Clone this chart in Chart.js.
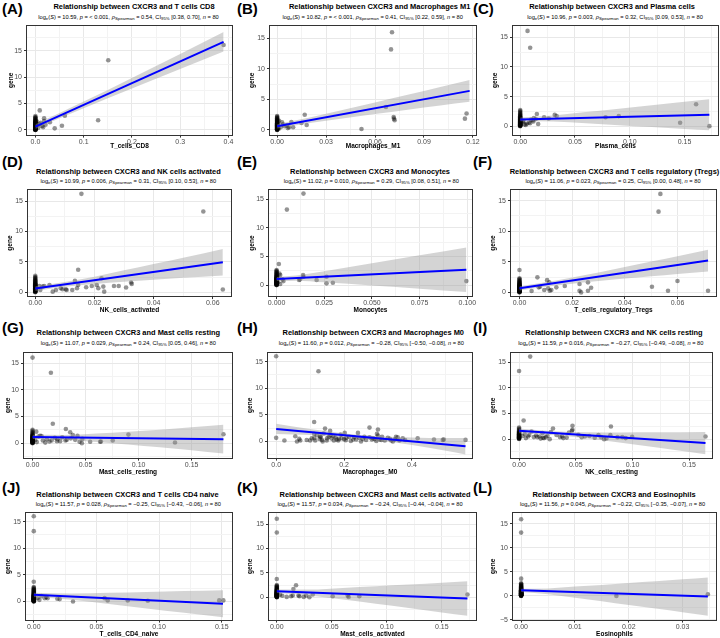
<!DOCTYPE html>
<html><head><meta charset="utf-8">
<script src="https://cdn.jsdelivr.net/npm/chart.js@4.4.0/dist/chart.umd.min.js"></script>
<style>
html,body{margin:0;padding:0;background:#fff;}
#fig{position:relative;width:720px;height:638px;overflow:hidden;font-family:"Liberation Sans",Arial,sans-serif;background:#fff;}
.lab{position:absolute;font-weight:bold;font-size:15px;line-height:15px;color:#000;white-space:nowrap;}
.ttl{position:absolute;width:300px;text-align:center;font-weight:bold;font-size:7.45px;line-height:10px;white-space:nowrap;color:#000;}
.sub{position:absolute;width:300px;text-align:center;font-size:5.7px;line-height:8px;white-space:nowrap;color:#000;}
.sub sub{font-size:75%;vertical-align:-0.3em;line-height:0;}
canvas{position:absolute;}
</style></head><body><div id="fig"></div>
<script>
// ---------------- DATA ----------------
const cellTitles = ['T cells CD8','Macrophages M1','Plasma cells','NK cells activated','Monocytes','T cells regulatory (Tregs)','Mast cells resting','Macrophages M0','NK cells resting','T cells CD4 naive','Mast cells activated','Eosinophils'];
const xLabels = ['T_cells_CD8','Macrophages_M1','Plasma_cells','NK_cells_activated','Monocytes','T_cells_regulatory_Tregs','Mast_cells_resting','Macrophages_M0','NK_cells_resting','T_cells_CD4_naive','Mast_cells_activated','Eosinophils'];
const panelLetters = ['(A)','(B)','(C)','(D)','(E)','(F)','(G)','(H)','(I)','(J)','(K)','(L)'];
const statLogS = ['10.59','10.82','10.96','10.99','11.02','11.06','11.07','11.60','11.59','11.57','11.57','11.56'];
const statP = ['&lt; 0.001','&lt; 0.001','0.003','0.006','0.010','0.023','0.029','0.012','0.016','0.028','0.034','0.045'];
const statRho = ['0.54','0.41','0.32','0.31','0.29','0.25','0.24','\u22120.28','\u22120.27','\u22120.25','\u22120.24','\u22120.22'];
const statCILo = ['0.38','0.22','0.09','0.10','0.08','0.00','0.05','\u22120.50','\u22120.49','\u22120.43','\u22120.44','\u22120.35'];
const statCIHi = ['0.70','0.59','0.53','0.53','0.51','0.48','0.46','\u22120.08','\u22120.08','\u22120.06','\u22120.04','\u22120.07'];
const statN = 80;

const yTicks = [0,5,10,15];
const yTickLabels = ['0','5','10','15'];
const yTicksL = [-5,0,5,10,15];
const yTickLabelsL = ['\u22125','0','5','10','15'];

// A
const A_pointX = [0.390,0.151,0.130,0.061,0.055,0.040,0.030,0.018,0.018,0.014,0.009,0.009,0.011,0.016,0.004,0.006,0.003,0.021];
const A_pointY = [16.1,13.2,1.83,2.7,0.8,0.3,1.45,2.2,1.7,0.75,3.7,1.1,1.35,0.5,0.9,0.4,1.6,1.0];
const A_zeroY = [2.62,2.41,2.33,2.18,2.05,1.97,1.86,1.79,1.71,1.64,1.58,1.52,1.47,1.41,1.38,1.33,1.29,1.24,1.21,1.17,1.13,1.09,1.06,1.02,0.98,0.95,0.93,0.89,0.86,0.83,0.8,0.77,0.74,0.71,0.69,0.66,0.63,0.61,0.58,0.55,0.52,0.5,0.47,0.44,0.41,0.39,0.36,0.33,0.31,0.28,0.25,0.22,0.2,0.17,0.14,0.12,0.09,0.07,0.05,0.03,0.01,0.0];
const A_lineX = [0,0.390]; const A_lineY = [0.63,16.7];
const A_bandX = [0,0.05,0.1,0.2,0.3,0.39];
const A_bandHi = [1.08,3.19,5.37,9.87,14.42,18.55];
const A_bandLo = [0.18,2.19,4.13,7.87,11.56,14.85];
const A_xTicks = [0,0.1,0.2,0.3,0.4]; const A_xTickLabels = ['0.0','0.1','0.2','0.3','0.4'];
// B
const B_pointX = [0.0704,0.0698,0.0667,0.0714,0.0720,0.0716,0.1161,0.1151,0.0517,0.0169,0.0181,0.0149,0.0098,0.0087,0.0073,0.0057,0.0030,0.0022,0.0045,0.0012,0.0035,0.0065,0.0010];
const B_pointY = [16.0,13.2,3.75,2.1,1.6,1.85,2.7,1.85,0.16,2.5,0.8,1.14,0.43,1.3,0.43,0.76,1.25,0.43,0.6,1.5,0.9,0.3,0.2];
const B_zeroY = [2.28,2.15,2.02,1.93,1.84,1.72,1.66,1.59,1.51,1.45,1.4,1.34,1.28,1.23,1.19,1.14,1.1,1.05,1.01,0.97,0.94,0.9,0.87,0.83,0.8,0.76,0.73,0.7,0.67,0.64,0.61,0.58,0.55,0.52,0.49,0.46,0.43,0.4,0.37,0.34,0.31,0.28,0.25,0.22,0.19,0.16,0.13,0.1,0.07,0.04,0.02,0.0,0.33,0.71,1.02,0.5,0.15];
const B_lineX = [0,0.118]; const B_lineY = [0.6,6.4];
const B_bandX = [0,0.02,0.04,0.06,0.08,0.1,0.118];
const B_bandHi = [0.95,2.03,3.25,4.5,5.76,7.04,8.2];
const B_bandLo = [0.25,1.13,1.89,2.6,3.3,4.0,4.6];
const B_xTicks = [0,0.03,0.06,0.09,0.12]; const B_xTickLabels = ['0.00','0.03','0.06','0.09','0.12'];
// C
const C_pointX = [0.0067,0.0091,0.1606,0.1727,0.1460,0.0900,0.0779,0.0315,0.0333,0.0152,0.0164,0.0218,0.0142,0.0100,0.0115,0.0125,0.0080,0.0060,0.0040,0.0090,0.0030,0.0050,0.0024,0.0260,0.0120];
const C_pointY = [16.1,13.26,3.7,0.0,0.57,1.7,1.5,1.9,1.7,2.06,0.35,1.5,1.2,1.1,1.0,1.35,0.6,0.4,0.3,0.5,0.9,0.2,0.7,1.3,0.8];
const C_zeroY = [2.72,2.55,2.4,2.22,2.1,1.98,1.87,1.76,1.68,1.6,1.52,1.45,1.39,1.33,1.27,1.22,1.16,1.11,1.06,1.02,0.97,0.93,0.89,0.85,0.81,0.77,0.73,0.69,0.66,0.62,0.58,0.55,0.51,0.48,0.44,0.41,0.37,0.34,0.3,0.27,0.23,0.2,0.16,0.13,0.09,0.06,0.03,0.0,0.45,0.75,1.04,0.25,0.6,0.12,0.95];
const C_lineX = [0,0.1727]; const C_lineY = [1.14,1.94];
const C_bandX = [0,0.03,0.06,0.09,0.12,0.15,0.1727];
const C_bandHi = [1.44,1.78,2.37,2.96,3.55,4.13,4.56];
const C_bandLo = [0.84,0.78,0.47,0.16,-0.15,-0.47,-0.68];
const C_xTicks = [0,0.05,0.1,0.15]; const C_xTickLabels = ['0.00','0.05','0.10','0.15'];
// D
const D_pointX = [0.0156,0.0568,0.0634,0.0145,0.0134,0.0224,0.0213,0.0208,0.0233,0.0230,0.0266,0.0282,0.0307,0.0324,0.0326,0.0191,0.0172,0.0141,0.0145,0.0125,0.0103,0.0106,0.0086,0.0092,0.0070,0.0059,0.0048,0.0025,0.0017,0.0014,0.0030];
const D_pointY = [16.2,13.3,0.44,3.7,1.87,2.3,0.66,1.2,0.1,0.93,1.04,1.04,0.77,1.6,1.37,1.04,0.82,0.66,1.2,0.38,0.5,0.38,0.66,0.5,0.38,0.1,1.2,0.93,0.38,1.04,1.04];
const D_zeroY = [2.7,2.52,2.36,2.24,2.11,1.99,1.88,1.79,1.7,1.62,1.54,1.47,1.4,1.34,1.28,1.22,1.16,1.1,1.05,1.0,0.95,0.9,0.85,0.8,0.75,0.71,0.66,0.62,0.57,0.53,0.48,0.44,0.39,0.35,0.3,0.26,0.21,0.17,0.12,0.08,0.04,0.01,0.6,0.9,1.3,0.45,0.2,0.7,1.12];
const D_lineX = [0,0.0634]; const D_lineY = [0.6,4.95];
const D_bandX = [0,0.01,0.02,0.03,0.04,0.05,0.0634];
const D_bandHi = [1.0,1.69,2.57,3.61,4.64,5.69,7.13];
const D_bandLo = [0.2,0.89,1.37,1.71,2.04,2.37,2.77];
const D_xTicks = [0,0.02,0.04,0.06]; const D_xTickLabels = ['0.00','0.02','0.04','0.06'];
// E
const E_pointX = [0.0141,0.0054,0.0995,0.0012,0.0019,0.0015,0.0139,0.0141,0.0123,0.0118,0.0210,0.0262,0.0262,0.0295,0.0036,0.0031,0.0019,0.0010,0.0008];
const E_pointY = [16.0,13.2,0.7,3.7,1.75,2.0,1.75,1.46,1.0,0.88,0.88,1.46,0.3,0.4,0.7,1.0,0.18,1.2,0.5];
const E_zeroY = [2.64,2.5,2.38,2.26,2.13,2.03,1.92,1.83,1.74,1.66,1.58,1.51,1.45,1.39,1.33,1.28,1.23,1.18,1.13,1.08,1.04,0.99,0.95,0.91,0.87,0.83,0.79,0.75,0.72,0.68,0.64,0.61,0.57,0.54,0.5,0.47,0.43,0.4,0.37,0.33,0.3,0.27,0.23,0.2,0.17,0.14,0.11,0.08,0.05,0.02,0.0,0.62,0.85,1.1,0.35,0.55,0.92,0.25,0.7,1.2,0.45];
const E_lineX = [0,0.0995]; const E_lineY = [1.05,2.69];
const E_bandX = [0,0.01,0.025,0.05,0.075,0.0995];
const E_bandHi = [1.4,1.67,2.44,3.83,5.22,6.59];
const E_bandLo = [0.7,0.77,0.48,-0.07,-0.64,-1.21];
const E_xTicks = [0,0.025,0.05,0.075,0.1]; const E_xTickLabels = ['0.000','0.025','0.050','0.075','0.100'];
// F
const F_pointX = [0.0535,0.0528,0.0716,0.0600,0.0564,0.0503,0.0272,0.0260,0.0260,0.0228,0.0234,0.0228,0.0172,0.0140,0.0121,0.0109,0.0115,0.0105,0.0113,0.0094,0.0068,0.0078,0.0073,0.0046];
const F_pointY = [16.1,13.2,0.27,1.86,0.27,0.93,0.77,0.27,1.64,0.27,0.0,1.37,1.04,0.82,0.38,0.66,0.27,2.0,1.64,0.38,2.46,0.93,0.82,0.22];
const F_zeroY = [3.66,2.3,2.17,2.04,1.93,1.83,1.74,1.65,1.57,1.5,1.43,1.37,1.31,1.25,1.2,1.15,1.1,1.05,1.0,0.96,0.92,0.88,0.84,0.8,0.76,0.72,0.68,0.65,0.61,0.58,0.54,0.51,0.47,0.44,0.41,0.37,0.34,0.31,0.28,0.25,0.22,0.19,0.16,0.13,0.1,0.07,0.04,0.01,0.6,0.9,0.35,1.2,0.5,0.75,0.2,1.02];
const F_lineX = [0,0.0716]; const F_lineY = [0.66,5.2];
const F_bandX = [0,0.01,0.02,0.03,0.04,0.05,0.06,0.0716];
const F_bandHi = [1.01,1.67,2.43,3.26,4.15,5.03,5.91,6.98];
const F_bandLo = [0.31,0.91,1.43,1.86,2.25,2.63,3.01,3.42];
const F_xTicks = [0,0.02,0.04,0.06]; const F_xTickLabels = ['0.00','0.02','0.04','0.06'];
// G
const G_pointX = [0.0173,0.0191,0.0314,0.0355,0.0380,0.0424,0.0904,0.1343,0.1800,0.0756,0.0637,0.0645,0.0543,0.0465,0.0443,0.0402,0.0323,0.0310,0.0260,0.0230,0.0235,0.0180,0.0160,0.0135,0.0097,0.0072,0.0056,0.0035,0.0040,0.0120,0.0280,0.0210,0.0360,0.0470,0.0085,0.0025];
const G_pointY = [13.2,3.64,2.65,2.04,1.54,1.36,1.6,0.12,1.67,0.49,0.25,0.3,0.25,0.0,0.25,0.62,0.62,0.5,0.37,0.37,0.74,0.5,0.3,0.74,0.49,1.36,1.23,2.16,0.2,0.1,1.1,1.0,0.9,0.8,1.35,0.6];
const G_zeroY = [16.05,2.5,2.3,2.1,1.92,1.78,1.65,1.53,1.43,1.34,1.26,1.18,1.1,1.03,0.96,0.89,0.82,0.76,0.7,0.64,0.58,0.52,0.47,0.42,0.37,0.32,0.27,0.22,0.18,0.14,0.1,0.06,0.03,0.0,0.55,0.85,1.15,0.35,0.66,0.95,0.2,1.4,0.78,0.45];
const G_lineX = [0,0.18]; const G_lineY = [1.17,0.74];
const G_bandX = [0,0.03,0.06,0.09,0.12,0.15,0.18];
const G_bandHi = [1.57,1.55,1.83,2.16,2.53,2.96,3.44];
const G_bandLo = [0.77,0.65,0.23,-0.24,-0.77,-1.34,-1.96];
const G_xTicks = [0,0.05,0.1,0.15]; const G_xTickLabels = ['0.00','0.05','0.10','0.15'];
// H
const H_pointX = [0.1246,0.112,0.0243,0.0564,0.0613,0.071,0.100,0.112,0.112,0.131,0.144,0.159,0.137,0.149,0.168,0.163,0.178,0.183,0.202,0.193,0.207,0.215,0.227,0.236,0.241,0.275,0.300,0.297,0.300,0.285,0.275,0.305,0.310,0.329,0.344,0.339,0.353,0.358,0.373,0.363,0.417,0.465,0.491,0.494,0.558,0.105,0.120,0.128,0.140,0.155,0.170,0.185,0.190,0.220,0.245,0.255,0.265,0.290,0.320,0.335,0.380,0.068,0.090,0.130,0.160,0.175,0.205,0.250,0.282,0.312,0.295,0.115,0.135,0.150,0.200,0.230,0.260,0.350];
const H_pointY = [13.2,3.68,0.19,1.0,0.0,0.19,0.19,0.62,1.43,0.81,2.43,2.0,0.0,0.19,1.0,0.56,0.37,0.19,1.62,0.62,0.69,0.87,0.37,0.37,1.62,2.62,2.25,1.43,1.12,0.62,0.81,0.37,0.3,0.69,0.0,0.19,0.87,0.81,0.62,0.19,0.62,0.37,0.31,0.37,0.31,0.6,1.2,0.5,1.5,0.9,0.2,0.5,1.3,0.1,0.7,0.5,0.3,0.5,0.2,0.5,0.3,0.5,0.3,1.0,1.2,0.8,0.25,0.0,0.4,0.9,0.1,0.2,0.3,0.6,0.45,0.8,0.9,0.4];
const H_zeroY = [16.0,0.69];
const H_lineX = [0,0.558]; const H_lineY = [2.37,-0.87];
const H_bandX = [0,0.1,0.2,0.3,0.4,0.5,0.558];
const H_bandHi = [3.32,2.34,1.53,1.01,0.77,0.66,0.68];
const H_bandLo = [1.42,1.24,0.89,0.25,-0.67,-1.74,-2.42];
const H_xTicks = [0,0.2,0.4]; const H_xTickLabels = ['0.0','0.2','0.4'];
// I
const I_pointX = [0.0098,0.0040,0.0471,0.0810,0.0299,0.1644,0.0207,0.0466,0.0471,0.0523,0.0552,0.0580,0.0667,0.0724,0.0750,0.0770,0.0805,0.0868,0.0997,0.0910,0.0940,0.0380,0.0390,0.0360,0.0330,0.0270,0.0236,0.0250,0.0180,0.0190,0.0160,0.0130,0.0150,0.0090,0.0080,0.0060,0.0050,0.0030,0.0420,0.0620,0.0700,0.0440,0.0280,0.0110,0.0210,0.0220];
const I_pointY = [16.1,3.64,2.6,2.47,2.08,0.52,1.17,1.62,1.82,0.84,0.39,0.5,0.26,0.39,0.0,0.13,0.78,0.39,0.45,0.4,0.2,0.52,0.2,0.4,0.8,0.0,0.39,0.65,0.5,0.1,0.4,0.4,0.7,0.8,0.5,0.2,1.0,0.6,0.3,0.6,0.8,1.3,1.4,1.5,0.25,0.2];
const I_zeroY = [13.3,2.27,2.05,1.86,1.7,1.56,1.44,1.33,1.23,1.14,1.05,0.97,0.89,0.82,0.75,0.68,0.61,0.55,0.49,0.43,0.37,0.31,0.26,0.21,0.16,0.11,0.06,0.02,0.5,0.9,1.2,0.3,0.7,1.0];
const I_lineX = [0,0.1644]; const I_lineY = [1.62,-0.78];
const I_bandX = [0,0.03,0.06,0.09,0.12,0.1644];
const I_bandHi = [2.07,1.56,1.34,1.31,1.32,1.37];
const I_bandLo = [1.17,0.8,0.14,-0.69,-1.58,-2.93];
const I_xTicks = [0,0.05,0.1,0.15]; const I_xTickLabels = ['0.00','0.05','0.10','0.15'];
// J
const J_pointX = [0.0087,0.0100,0.0110,0.0188,0.0207,0.0313,0.0565,0.0590,0.0750,0.0910,0.1480,0.1513,0.0030,0.0045,0.0060];
const J_pointY = [0.62,0.81,0.6,0.5,0.44,0.0,0.62,0.19,0.19,0.12,0.19,0.19,0.6,0.3,1.0];
const J_zeroY = [16.0,13.2,3.7,2.7,2.55,2.42,2.3,2.19,2.08,1.98,1.89,1.8,1.72,1.64,1.57,1.5,1.44,1.38,1.32,1.27,1.22,1.17,1.12,1.07,1.03,0.99,0.95,0.91,0.87,0.83,0.79,0.75,0.72,0.68,0.64,0.61,0.57,0.54,0.51,0.47,0.44,0.41,0.38,0.35,0.32,0.29,0.26,0.23,0.2,0.17,0.14,0.11,0.08,0.05,0.02,0.0,0.9,0.6,1.25,0.4,0.75,1.05,0.3,0.55,0.15];
const J_lineX = [0,0.151]; const J_lineY = [1.25,-0.44];
const J_bandX = [0,0.03,0.06,0.09,0.12,0.151];
const J_bandHi = [1.65,1.51,1.63,1.79,1.96,2.11];
const J_bandLo = [0.85,0.31,-0.47,-1.31,-2.14,-2.99];
const J_xTicks = [0,0.05,0.1,0.15]; const J_xTickLabels = ['0.00','0.05','0.10','0.15'];
// K
const K_pointX = [0.0175,0.0151,0.0130,0.0145,0.0090,0.0197,0.0206,0.0245,0.0266,0.0296,0.0327,0.0508,0.0644,0.0653,0.0750,0.1733,0.0030,0.0050];
const K_pointY = [2.45,1.7,0.2,0.34,0.07,0.34,0.2,0.07,0.34,0.0,0.55,0.2,0.34,0.07,0.2,0.55,0.5,0.3];
const K_zeroY = [16.1,13.3,3.75,2.5,2.36,2.23,2.11,2.0,1.9,1.81,1.72,1.64,1.56,1.49,1.42,1.36,1.3,1.24,1.18,1.13,1.08,1.03,0.98,0.94,0.9,0.86,0.82,0.78,0.74,0.7,0.66,0.63,0.59,0.56,0.52,0.49,0.45,0.42,0.39,0.36,0.33,0.3,0.27,0.24,0.21,0.18,0.15,0.12,0.09,0.06,0.03,0.0,0.8,0.5,1.1,0.35,0.65,0.95,0.25,1.35,0.6,0.15];
const K_lineX = [0,0.1733]; const K_lineY = [1.23,-0.27];
const K_bandX = [0,0.03,0.06,0.09,0.12,0.15,0.1733];
const K_bandHi = [1.61,1.57,1.91,2.25,2.59,2.98,3.28];
const K_bandLo = [0.85,0.37,-0.49,-1.35,-2.21,-3.12,-3.82];
const K_xTicks = [0,0.05,0.1,0.15]; const K_xTickLabels = ['0.00','0.05','0.10','0.15'];
// L
const L_pointX = [0.0177,0.0347];
const L_pointY = [0.0,0.34];
const L_zeroY = [16.0,13.2,3.6,2.62,2.5,2.39,2.28,2.18,2.08,1.99,1.9,1.82,1.74,1.67,1.6,1.53,1.47,1.41,1.35,1.3,1.25,1.2,1.15,1.1,1.06,1.02,0.98,0.94,0.9,0.86,0.82,0.78,0.75,0.71,0.68,0.64,0.61,0.58,0.55,0.51,0.48,0.45,0.42,0.39,0.36,0.33,0.3,0.27,0.24,0.21,0.18,0.15,0.12,0.09,0.06,0.03,0.0,0.8,0.5,1.12,0.35,0.66,0.95,0.25,1.3,0.6,0.15,0.9,0.45,1.05,0.72,0.2,0.55,1.18,0.4,0.85,0.1];
const L_lineX = [0,0.0347]; const L_lineY = [1.16,-0.14];
const L_bandX = [0,0.005,0.01,0.015,0.02,0.025,0.03,0.0347];
const L_bandHi = [1.51,1.57,1.94,2.3,2.71,3.07,3.49,3.86];
const L_bandLo = [0.81,0.37,-0.36,-1.1,-1.89,-2.63,-3.41,-4.14];
const L_xTicks = [0,0.01,0.02,0.03]; const L_xTickLabels = ['0.00','0.01','0.02','0.03'];

// axis limits
const xRanges = [[-0.0195,0.4095],[-0.005,0.1225],[-0.0075,0.1815],[-0.0028,0.0665],[-0.0045,0.103],[-0.0036,0.075],[-0.009,0.189],[-0.027,0.58],[-0.008,0.171],[-0.007,0.159],[-0.008,0.182],[-0.0017,0.0364]];
const yRanges = [[-1.08,19.9],[-0.93,17.2],[-1.6,17.1],[-0.8,17.0],[-2.1,16.8],[-0.77,16.9],[-2.9,17.1],[-3.2,16.8],[-3.8,17.0],[-3.6,16.8],[-4.8,17.5],[-5.15,17.5]];

// ---------------- LAYOUT ----------------
const rows = [
  {letterY:8, titleY:7, subY:17, top:25, bottom:136, xTitleY:146.5},
  {letterY:161, titleY:172, subY:181, top:189, bottom:297, xTitleY:310},
  {letterY:327.5, titleY:333, subY:343, top:352, bottom:459, xTitleY:472.5},
  {letterY:487.5, titleY:495, subY:504, top:512, bottom:621, xTitleY:634.5}
];
const colLeft = [0,240,480];
const letterX = [2,237,473];
const plotLR = [[26,233],[269,477],[512,719],[27,232],[268,473],[510,717],[23,233],[267,473],[510,713],[25,233],[268,477],[512,717]];
const geneX = [11,12,15,10,12.5,13.3,8.3,10,13,8,10,13];
const titleCX = [134,379.7,612,128.3,370,614.5,128.3,373.3,614,127.5,375,614];
const subCX = [128.5,372.7,615,128.3,371.3,613,128.3,371.3,610.8,128.3,370,612.5];

const P = {
  A:[A_pointX,A_pointY,A_zeroY,A_lineX,A_lineY,A_bandX,A_bandHi,A_bandLo,A_xTicks,A_xTickLabels],
  B:[B_pointX,B_pointY,B_zeroY,B_lineX,B_lineY,B_bandX,B_bandHi,B_bandLo,B_xTicks,B_xTickLabels],
  C:[C_pointX,C_pointY,C_zeroY,C_lineX,C_lineY,C_bandX,C_bandHi,C_bandLo,C_xTicks,C_xTickLabels],
  D:[D_pointX,D_pointY,D_zeroY,D_lineX,D_lineY,D_bandX,D_bandHi,D_bandLo,D_xTicks,D_xTickLabels],
  E:[E_pointX,E_pointY,E_zeroY,E_lineX,E_lineY,E_bandX,E_bandHi,E_bandLo,E_xTicks,E_xTickLabels],
  F:[F_pointX,F_pointY,F_zeroY,F_lineX,F_lineY,F_bandX,F_bandHi,F_bandLo,F_xTicks,F_xTickLabels],
  G:[G_pointX,G_pointY,G_zeroY,G_lineX,G_lineY,G_bandX,G_bandHi,G_bandLo,G_xTicks,G_xTickLabels],
  H:[H_pointX,H_pointY,H_zeroY,H_lineX,H_lineY,H_bandX,H_bandHi,H_bandLo,H_xTicks,H_xTickLabels],
  I:[I_pointX,I_pointY,I_zeroY,I_lineX,I_lineY,I_bandX,I_bandHi,I_bandLo,I_xTicks,I_xTickLabels],
  J:[J_pointX,J_pointY,J_zeroY,J_lineX,J_lineY,J_bandX,J_bandHi,J_bandLo,J_xTicks,J_xTickLabels],
  K:[K_pointX,K_pointY,K_zeroY,K_lineX,K_lineY,K_bandX,K_bandHi,K_bandLo,K_xTicks,K_xTickLabels],
  L:[L_pointX,L_pointY,L_zeroY,L_lineX,L_lineY,L_bandX,L_bandHi,L_bandLo,L_xTicks,L_xTickLabels]
};
const keys = ['A','B','C','D','E','F','G','H','I','J','K','L'];

const FONT = '"Liberation Sans", Arial, sans-serif';
Chart.defaults.font.family = FONT;

function tickList(major, labels, range) {
  const step = major[1] - major[0];
  const out = major.map((v, i) => ({value: v, mn: false, lab: labels[i]}));
  const cand = [major[0] - step / 2].concat(major.map(v => v + step / 2));
  cand.forEach(m => { if (m > range[0] && m < range[1]) out.push({value: m, mn: true, lab: ''}); });
  out.sort((a, b) => a.value - b.value);
  return out;
}

const boxPlugin = {
  id: 'panelBox',
  afterDraw(chart) {
    const {ctx, chartArea: a} = chart;
    ctx.save();
    ctx.strokeStyle = '#333333';
    ctx.lineWidth = 1;
    ctx.strokeRect(Math.round(a.left) + 0.5, Math.round(a.top) + 0.5, Math.round(a.right - a.left) - 1, Math.round(a.bottom - a.top) - 1);
    ctx.restore();
  }
};

const fig = document.getElementById('fig');

function addDiv(cls, html, left, top) {
  const d = document.createElement('div');
  d.className = cls; d.innerHTML = html;
  d.style.left = left + 'px'; d.style.top = top + 'px';
  fig.appendChild(d);
}

keys.forEach((k, i) => {
  const [px, py, zy, lx, ly, bx, bh, bl, xt, xtl] = P[k];
  const row = rows[Math.floor(i / 3)];
  const cl = colLeft[i % 3];
  const [pl, pr] = plotLR[i];
  const padT = 3, padR = 3;
  const lh = 6.5 * 1.2;
  const xAxisH = (row.xTitleY - row.bottom) + lh / 2;
  const W = pr + padR - cl;
  const H = padT + (row.bottom - row.top) + xAxisH;
  const cv = document.createElement('canvas');
  cv.width = Math.round(W); cv.height = Math.round(H);
  cv.style.width = Math.round(W) + 'px'; cv.style.height = Math.round(H) + 'px';
  cv.style.left = cl + 'px'; cv.style.top = (row.top - padT) + 'px';
  fig.appendChild(cv);

  const pts = [];
  const n = Math.min(px.length, py.length);
  for (let j = 0; j < n; j++) pts.push({x: px[j], y: py[j]});
  zy.forEach(v => pts.push({x: 0, y: v}));
  const hi = bx.map((x, j) => ({x, y: bh[j]}));
  const lo = bx.map((x, j) => ({x, y: bl[j]}));
  const line = lx.map((x, j) => ({x, y: ly[j]}));

  const xr = xRanges[i], yr = yRanges[i];
  const xTickObjs = tickList(xt, xtl, xr);
  const yTickObjs = (k === 'L') ? tickList(yTicksL, yTickLabelsL, yr) : tickList(yTicks, yTickLabels, yr);
  const yAxisW = pl - cl;

  const gridColor = c => (c.tick && c.tick.mn) ? '#f3f3f3' : '#e8e8e8';
  const tickColor = c => (c.tick && c.tick.mn) ? 'rgba(0,0,0,0)' : '#333333';

  new Chart(cv, {
    type: 'scatter',
    data: {datasets: [
      {type: 'line', data: hi, borderWidth: 0, borderColor: 'rgba(0,0,0,0)', pointRadius: 0, fill: false, order: 2, cubicInterpolationMode: 'monotone'},
      {type: 'line', data: lo, borderWidth: 0, borderColor: 'rgba(0,0,0,0)', pointRadius: 0, fill: '-1', backgroundColor: 'rgba(153,153,153,0.42)', order: 2, cubicInterpolationMode: 'monotone'},
      {type: 'line', data: line, borderColor: '#0000ff', borderWidth: 2, pointRadius: 0, fill: false, order: 1},
      {type: 'scatter', data: pts, pointRadius: 2.3, pointHoverRadius: 2.3, backgroundColor: 'rgba(0,0,0,0.42)', borderWidth: 0, order: 3}
    ]},
    options: {
      animation: false, responsive: false, devicePixelRatio: 1, events: [],
      layout: {padding: {top: padT, right: padR, left: 0, bottom: 0}},
      plugins: {legend: {display: false}, tooltip: {enabled: false}, title: {display: false}},
      scales: {
        x: {
          type: 'linear', min: xr[0], max: xr[1],
          afterBuildTicks: ax => { ax.ticks = xTickObjs.map(t => Object.assign({}, t)); },
          afterFit: s => { s.height = xAxisH; s.paddingLeft = 0; s.paddingRight = 0; },
          ticks: {autoSkip: false, maxRotation: 0, minRotation: 0, font: {size: 7}, color: '#4d4d4d', padding: 0,
                  callback: (v, idx, t) => (t[idx] && t[idx].lab) || ''},
          grid: {color: gridColor, lineWidth: 1, tickLength: 2, tickColor: tickColor, drawTicks: true},
          border: {display: false},
          title: {display: true, text: xLabels[i], font: {size: 6.5, weight: 'bold'}, color: '#000', padding: {top: 0, bottom: 0}}
        },
        y: {
          type: 'linear', min: yr[0], max: yr[1],
          afterBuildTicks: ax => { ax.ticks = yTickObjs.map(t => Object.assign({}, t)); },
          afterFit: s => { s.width = yAxisW; s.paddingTop = 0; s.paddingBottom = 0; },
          ticks: {autoSkip: false, font: {size: 7}, color: '#4d4d4d', padding: 2,
                  callback: (v, idx, t) => (t[idx] && t[idx].lab) || ''},
          grid: {color: gridColor, lineWidth: 1, tickLength: 2, tickColor: tickColor, drawTicks: true},
          border: {display: false},
          title: {display: true, text: 'gene', font: {size: 6.5, weight: 'bold'}, color: '#000', padding: {top: Math.max(0, geneX[i] - lh / 2), bottom: 0}}
        }
      }
    },
    plugins: [boxPlugin]
  });

  addDiv('lab', panelLetters[i], letterX[i % 3], row.letterY - 7.5);
  addDiv('ttl', 'Relationship between CXCR3 and ' + cellTitles[i], titleCX[i] - 150, row.titleY - 5);
  const sub = 'log<sub>e</sub>(<i>S</i>) = ' + statLogS[i] + ', <i>p</i> = ' + statP[i] +
    ', <i>\u03C1</i><sub>Spearman</sub> = ' + statRho[i] + ', CI<sub>95%</sub> [' + statCILo[i] + ', ' + statCIHi[i] + '], <i>n</i> = ' + statN;
  addDiv('sub', sub, subCX[i] - 150, row.subY - 4);
});
</script>
</body></html>
